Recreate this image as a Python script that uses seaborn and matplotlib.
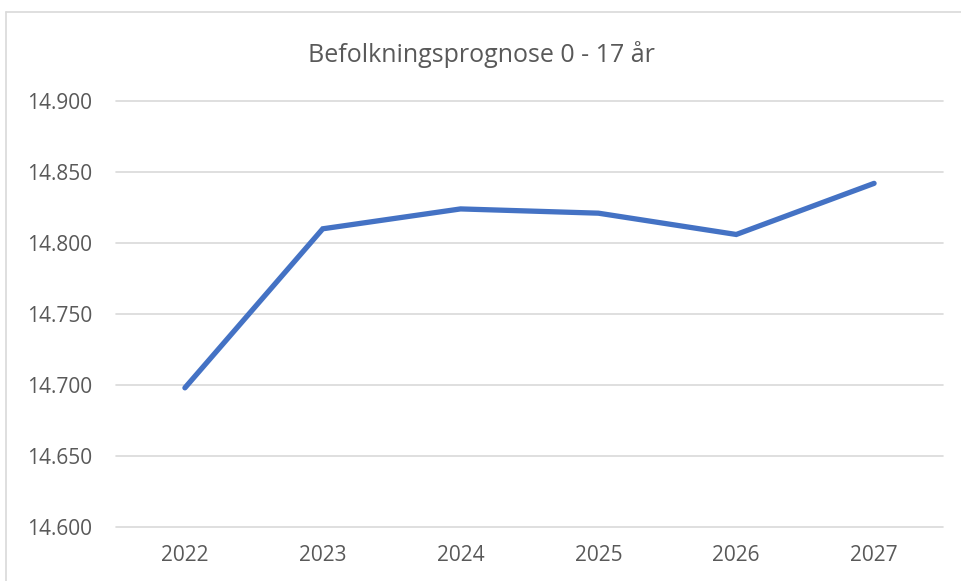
import matplotlib
matplotlib.use("Agg")
import matplotlib.pyplot as plt
from matplotlib.lines import Line2D
from matplotlib.ticker import FuncFormatter, MultipleLocator
import seaborn as sns
import pandas as pd

years = ["2022", "2023", "2024", "2025", "2026", "2027"]
values = [14698, 14810, 14824, 14821, 14806, 14842]
title = "Befolkningsprognose 0 - 17 år"

sns.set_style("white")
plt.rcParams["font.family"] = ["Open Sans", "DejaVu Sans"]

df = pd.DataFrame({"year": years, "value": values})

fig = plt.figure(figsize=(9.62, 5.81), dpi=100)
W, H = 962, 581
ax = fig.add_axes([116 / W, 1 - 527 / H, (943 - 116) / W, (527 - 101) / H])

# outer chart border (left and top edges visible)
border_kw = dict(transform=fig.transFigure, color="#D9D9D9", linewidth=1.2)
fig.lines.append(Line2D([5.5 / W, 5.5 / W], [0, 1 - 12 / H], **border_kw))
fig.lines.append(Line2D([5.5 / W, 1], [1 - 12 / H, 1 - 12 / H], **border_kw))

sns.lineplot(data=df, x="year", y="value", ax=ax, color="#4472C4",
             linewidth=3.8, sort=False)
for l in ax.lines:
    l.set_solid_capstyle("round")
    l.set_solid_joinstyle("miter")

ax.set_xlim(-0.5, 5.5)
ax.set_ylim(14600, 14900)
ax.yaxis.set_major_locator(MultipleLocator(50))
ax.yaxis.set_major_formatter(FuncFormatter(lambda v, p: f"{int(round(v)):,}".replace(",", ".")))
ax.grid(axis="y", color="#D9D9D9", linewidth=1.2)
for gl in ax.get_ygridlines():
    gl.set_clip_on(False)
ax.set_axisbelow(True)
for s in ax.spines.values():
    s.set_visible(False)
ax.tick_params(axis="both", length=0, labelsize=15, labelcolor="#595959")
ax.tick_params(axis="y", pad=17)
ax.tick_params(axis="x", pad=13)
ax.set_xlabel("")
ax.set_ylabel("")

fig.text(0.5, 1 - 54 / H, title, ha="center", va="center", fontsize=18, color="#595959")

fig.savefig("out.png", dpi=100)
